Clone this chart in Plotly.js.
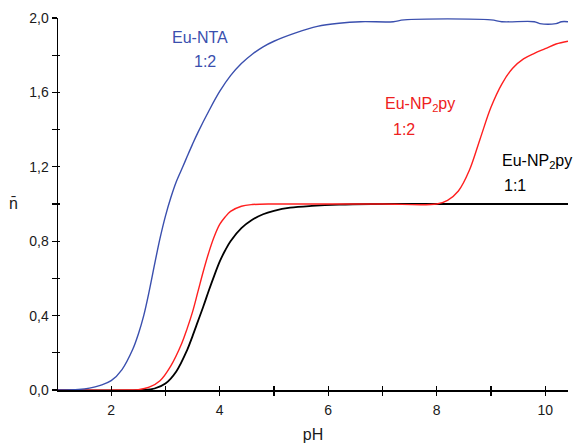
<!DOCTYPE html>
<html><head><meta charset="utf-8">
<script src="https://cdn.plot.ly/plotly-3.0.1.min.js"></script>
<style>html,body{margin:0;padding:0;background:#fff}#chart{width:577px;height:443px}</style>
</head><body><div id="chart"></div>
<script>
// Eu-NTA 1:2 (blue)
const phNTA = [1.0,1.4,1.6,1.8,2.0,2.2,2.4,2.5,2.6,2.7,2.8,2.9,3.0,3.1,3.2,3.32,3.4,3.5,3.6,3.8,4.0,4.2,4.4,4.6,4.8,5.0,5.4,5.8,6.2,6.6,7.2,7.4,9.0,9.2,9.8,9.9,10.2,10.3,10.42];
const nNTA  = [0.0,0.003,0.01,0.025,0.05,0.11,0.22,0.30,0.40,0.53,0.675,0.815,0.935,1.035,1.12,1.20,1.255,1.322,1.385,1.50,1.605,1.69,1.755,1.805,1.845,1.875,1.92,1.955,1.972,1.98,1.98,1.99,1.99,1.98,1.98,1.97,1.97,1.98,1.98];
// Eu-NP2py 1:2 (red)
const phNP12 = [1.0,2.3,2.5,2.7,2.9,3.1,3.3,3.4,3.5,3.6,3.7,3.8,3.9,4.0,4.1,4.2,4.4,4.6,5.0,6.0,7.0,8.0,8.2,8.4,8.6,8.8,9.0,9.2,9.4,9.6,9.8,10.0,10.2,10.42];
const nNP12  = [0.0,0.0,0.002,0.015,0.05,0.13,0.25,0.33,0.42,0.53,0.64,0.74,0.825,0.89,0.93,0.96,0.988,0.997,1.0,1.0,1.0,1.0,1.02,1.07,1.18,1.35,1.52,1.645,1.73,1.78,1.81,1.835,1.86,1.875];
// Eu-NP2py 1:1 (black)
const phNP11 = [1.0,2.6,2.8,3.0,3.2,3.4,3.5,3.6,3.7,3.8,3.9,4.0,4.1,4.2,4.4,4.6,4.8,5.0,5.3,5.7,6.2,6.8,8.0,9.0,10.0,10.42];
const nNP11  = [0.0,0.0,0.008,0.035,0.10,0.215,0.29,0.37,0.45,0.535,0.615,0.69,0.75,0.80,0.87,0.915,0.945,0.963,0.98,0.99,0.997,1.0,1.0,1.0,1.0,1.0];

const xTickVals = [1,2,3,4,5,6,7,8,9,10];
const xTickText = ['','2','','4','','6','','8','','10'];
const yTickVals = [0,0.2,0.4,0.6,0.8,1.0,1.2,1.4,1.6,1.8,2.0];
const yTickText = ['0,0','','0,4','','0,8','','1,2','','1,6','','2,0'];

const xRange = [1.02, 10.42];
const yRange = [0, 2.0];

const FONT = 'Liberation Sans, Arial, sans-serif';
const traces = [
  {x: phNP11, y: nNP11, mode: 'lines', line: {color: '#000000', width: 1.8, shape: 'spline', smoothing: 1}, hoverinfo: 'skip'},
  {x: phNP12, y: nNP12, mode: 'lines', line: {color: '#ff1f1f', width: 1.4, shape: 'spline', smoothing: 1}, hoverinfo: 'skip'},
  {x: phNTA, y: nNTA, xaxis: 'x2', yaxis: 'y2', mode: 'lines', line: {color: '#3a4fae', width: 1.4, shape: 'spline', smoothing: 1}, hoverinfo: 'skip'}
];

const tickFont = {family: FONT, size: 14, color: '#1a1a1a'};
function lbl(x, y, text, color) {
  return {xref: 'paper', yref: 'paper', x: x, y: y, text: text, showarrow: false,
    xanchor: 'center', yanchor: 'middle', font: {family: FONT, size: 16, color: color}};
}
// plot area: x 58..568 (510 px), y 18..390 (372 px)
function px(x) { return (x - 58) / 510; }
function py(y) { return (390 - y) / 372; }
const layout = {
  width: 577, height: 443,
  margin: {l: 58, r: 9, t: 18, b: 53},
  paper_bgcolor: '#fff', plot_bgcolor: '#fff',
  showlegend: false,
  xaxis: {range: xRange, tickmode: 'array', tickvals: xTickVals, ticktext: xTickText,
    ticks: 'outside', ticklen: 4, tickwidth: 1.3, tickcolor: '#000', ticklabelstandoff: 3,
    showline: true, linecolor: '#000', linewidth: 1.5, showgrid: false, zeroline: false,
    tickfont: tickFont,
    title: {text: 'pH', font: {family: FONT, size: 16, color: '#1a1a1a'}, standoff: 12}},
  yaxis: {range: yRange, tickmode: 'array', tickvals: yTickVals, ticktext: yTickText,
    ticks: 'outside', ticklen: 5, tickwidth: 1.3, tickcolor: '#000',
    showline: true, linecolor: '#000', linewidth: 1.5, showgrid: false, zeroline: false,
    tickfont: tickFont},
  xaxis2: {range: xRange, overlaying: 'x', anchor: 'y2', side: 'bottom', tickmode: 'array', tickvals: xTickVals,
    ticks: 'inside', ticklen: 4, tickwidth: 1.3, tickcolor: '#000', showticklabels: false,
    showline: false, showgrid: false, zeroline: false},
  yaxis2: {range: yRange, overlaying: 'y', anchor: 'x2', side: 'left', tickmode: 'array', tickvals: yTickVals,
    ticks: 'inside', ticklen: 2, tickwidth: 1.3, tickcolor: '#000', showticklabels: false,
    showline: false, showgrid: false, zeroline: false},
  annotations: [
    {xref: 'paper', yref: 'paper', x: px(13), y: py(203), text: 'n&#772;', showarrow: false,
      xanchor: 'center', yanchor: 'middle', font: {family: FONT, size: 16, color: '#1a1a1a'}},
    lbl(px(200), py(38), 'Eu-NTA', '#3a4fae'),
    lbl(px(205), py(61), '1:2', '#3a4fae'),
    lbl(px(420), py(104), 'Eu-NP<sub>2</sub>py', '#ee2020'),
    lbl(px(404), py(129), '1:2', '#ee2020'),
    lbl(px(537), py(161), 'Eu-NP<sub>2</sub>py', '#000'),
    lbl(px(515), py(185), '1:1', '#000')
  ]
};
Plotly.newPlot('chart', traces, layout, {staticPlot: true, displayModeBar: false});
</script></body></html>
